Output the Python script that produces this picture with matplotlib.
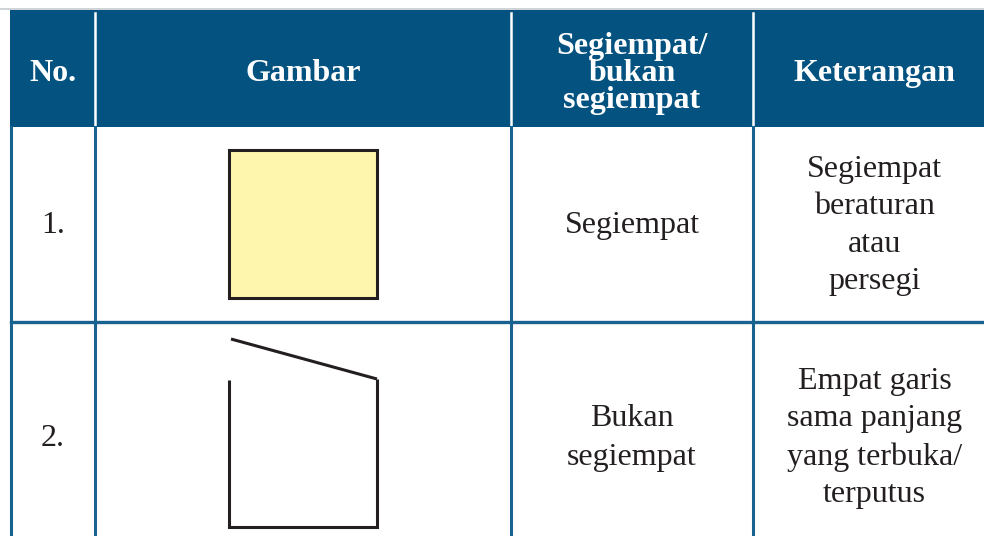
import matplotlib
matplotlib.use('Agg')
import matplotlib.pyplot as plt
from matplotlib.patches import Rectangle, Polygon

# table content
headers = ['No.', 'Gambar', 'Segiempat/\nbukan\nsegiempat', 'Keterangan']
row_no = ['1.', '2.']
row_status = ['Segiempat', 'Bukan\nsegiempat']
row_note = ['Segiempat\nberaturan\natau\npersegi',
            'Empat garis\nsama panjang\nyang terbuka/\nterputus']
# shape outlines (cell-relative, in px): closed square, open figure
shape_square = [(229, 150), (377, 150), (377, 298), (229, 298)]
shape_open = [[(231, 339), (377, 379), (377, 527), (229, 527), (229, 380)]]

# layout (pixel coordinates)
col_edges = [11, 95, 511, 753, 996]
row_edges = [10, 127, 322, 552]
BLUE = '#03527f'
LINE = '#17628f'
TXT = '#231f20'
SERIF = ['Liberation Serif', 'DejaVu Serif']

fig = plt.figure(figsize=(9.84, 5.36), dpi=100)
ax = fig.add_axes([0, 0, 1, 1])
ax.set_xlim(0, 984)
ax.set_ylim(536, 0)
ax.axis('off')

# header band
ax.plot([0, 984], [9, 9], color='#c8ccd0', lw=1.2)
ax.add_patch(Rectangle((col_edges[0] - 1, row_edges[0]), col_edges[-1] - col_edges[0] + 1,
                       row_edges[1] - row_edges[0], facecolor=BLUE, edgecolor='none'))
for x in col_edges[1:-1]:
    ax.plot([x, x], [13, 125], color='white', lw=1.8)
centers = [(col_edges[i] + col_edges[i + 1]) / 2 for i in range(4)]
for cx, h in zip(centers, headers):
    ax.text(cx, 73.5, h, ha='center', va='center', color='white', fontsize=23,
            fontweight='bold', family=SERIF, linespacing=0.92)

# body grid
for x in col_edges[:-1]:
    ax.plot([x, x], [row_edges[1], 540], color=LINE, lw=2.2)
ax.plot([col_edges[0], 984], [row_edges[2], row_edges[2]], color=LINE, lw=2.4)

# row text
for i in range(2):
    cy = (row_edges[i + 1] + row_edges[i + 2]) / 2 + 1
    ax.text(centers[0], cy, row_no[i], ha='center', va='center', color=TXT,
            fontsize=23, family=SERIF)
    ax.text(centers[2], cy, row_status[i], ha='center', va='center', color=TXT,
            fontsize=23, family=SERIF, linespacing=1.44)
    ax.text(centers[3], cy, row_note[i], ha='center', va='center', color=TXT,
            fontsize=23, family=SERIF, linespacing=1.39)

# shapes
ax.add_patch(Polygon(shape_square, closed=True, facecolor='#fff6ad',
                     edgecolor='#231f20', lw=2.2))
for seg in shape_open:
    xs, ys = zip(*seg)
    ax.plot(xs[:2], ys[:2], color='#231f20', lw=2.2, solid_capstyle='butt')
    ax.plot(xs[1:], ys[1:], color='#231f20', lw=2.2, solid_capstyle='butt',
            solid_joinstyle='miter')

fig.savefig('out.png', dpi=100)
